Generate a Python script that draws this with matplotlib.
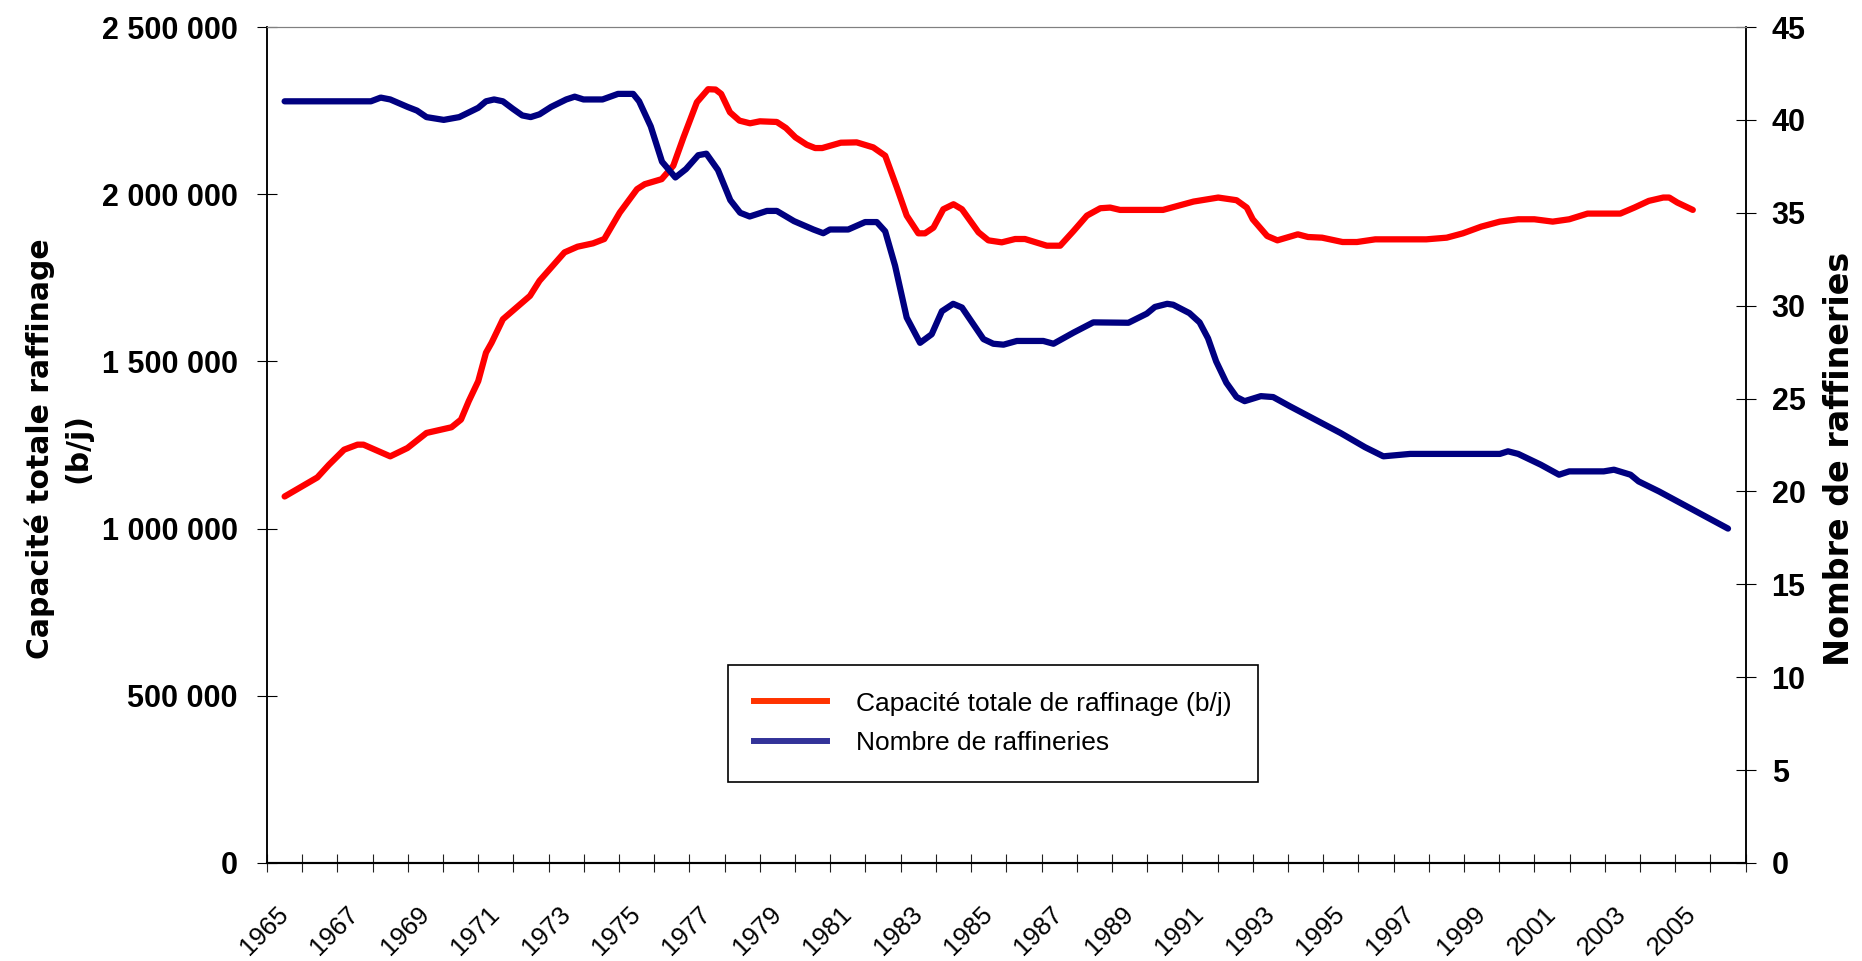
import numpy as np
import matplotlib.pyplot as plt
from matplotlib.lines import Line2D
from matplotlib.ticker import FuncFormatter

plt.rcParams['font.family'] = ['Liberation Sans', 'DejaVu Sans']

# Capacité totale de raffinage (b/j)
cap_years = [1965.0, 1965.93, 1966.26, 1966.69, 1967.07, 1967.24, 1968.0, 1968.49, 1969.03, 1969.74,
             1970.01, 1970.23, 1970.5, 1970.72, 1970.88, 1971.2, 1971.97, 1972.24, 1972.95, 1973.32,
             1973.76, 1974.08, 1974.52, 1975.01, 1975.23, 1975.71, 1976.04, 1976.33, 1976.71, 1977.03,
             1977.24, 1977.4, 1977.65, 1977.92, 1978.22, 1978.5, 1978.98, 1979.24, 1979.51, 1979.83,
             1980.07, 1980.27, 1980.8, 1981.25, 1981.72, 1982.06, 1982.39, 1982.67, 1983.0, 1983.19,
             1983.43, 1983.71, 1984.0, 1984.24, 1984.71, 1984.99, 1985.37, 1985.75, 1986.03, 1986.65,
             1987.03, 1987.41, 1987.79, 1988.17, 1988.45, 1988.73, 1989.95, 1990.82, 1991.52, 1992.04,
             1992.33, 1992.5, 1992.91, 1993.2, 1993.78, 1994.07, 1994.47, 1995.05, 1995.46, 1995.98,
             1997.43, 1998.01, 1998.47, 1998.99, 1999.52, 2000.04, 2000.5, 2001.02, 2001.49, 2002.01,
             2002.94, 2003.34, 2003.75, 2004.16, 2004.33, 2004.56, 2005.0]
cap_values = [1096000, 1153000, 1191000, 1236000, 1251000, 1251000, 1216000, 1241000, 1286000, 1303000,
              1326000, 1381000, 1441000, 1526000, 1556000, 1626000, 1696000, 1741000, 1826000, 1843000,
              1853000, 1866000, 1945000, 2015000, 2030000, 2045000, 2085000, 2170000, 2275000, 2314000,
              2313000, 2300000, 2245000, 2220000, 2212000, 2218000, 2216000, 2198000, 2170000, 2148000,
              2138000, 2138000, 2154000, 2155000, 2140000, 2115000, 2020000, 1936000, 1883000, 1883000,
              1900000, 1955000, 1970000, 1955000, 1886000, 1862000, 1856000, 1866000, 1866000, 1846000,
              1846000, 1890000, 1936000, 1958000, 1960000, 1953000, 1953000, 1978000, 1990000, 1982000,
              1960000, 1925000, 1875000, 1862000, 1880000, 1872000, 1870000, 1857000, 1857000, 1865000,
              1865000, 1870000, 1883000, 1903000, 1918000, 1925000, 1925000, 1918000, 1925000, 1942000,
              1942000, 1960000, 1980000, 1990000, 1990000, 1975000, 1953000]

# Nombre de raffineries
raf_years = [1965.0, 1967.45, 1967.73, 1968.0, 1968.49, 1968.76, 1969.03, 1969.52, 1969.96, 1970.23,
             1970.5, 1970.72, 1970.95, 1971.2, 1971.48, 1971.75, 1971.99, 1972.24, 1972.57, 1973.0,
             1973.24, 1973.49, 1974.03, 1974.47, 1974.9, 1975.07, 1975.4, 1975.72, 1976.1, 1976.4,
             1976.75, 1976.98, 1977.31, 1977.66, 1977.94, 1978.21, 1978.7, 1978.98, 1979.47, 1980.02,
             1980.3, 1980.49, 1981.01, 1981.49, 1981.82, 1982.06, 1982.34, 1982.67, 1983.05, 1983.38,
             1983.67, 1983.99, 1984.24, 1984.85, 1985.13, 1985.42, 1985.8, 1986.55, 1986.84, 1987.41,
             1987.97, 1988.97, 1989.49, 1989.72, 1990.07, 1990.24, 1990.7, 1990.99, 1991.23, 1991.46,
             1991.75, 1992.04, 1992.27, 1992.73, 1993.08, 1993.55, 1994.99, 1995.69, 1996.21, 1996.97,
             1999.52, 1999.75, 2000.04, 2000.68, 2001.2, 2001.49, 2002.47, 2002.76, 2003.23, 2003.46,
             2004.04, 2006.0]
raf_values = [41.0, 41.0, 41.2, 41.1, 40.7, 40.5, 40.15, 40.0, 40.15, 40.4,
              40.65, 41.0, 41.1, 41.0, 40.6, 40.24, 40.15, 40.3, 40.7, 41.1,
              41.25, 41.1, 41.1, 41.4, 41.4, 41.0, 39.65, 37.75, 36.9, 37.35,
              38.1, 38.18, 37.3, 35.68, 35.0, 34.8, 35.1, 35.1, 34.55, 34.1,
              33.9, 34.1, 34.1, 34.5, 34.5, 34.0, 32.15, 29.36, 28.0, 28.46,
              29.7, 30.1, 29.9, 28.2, 27.95, 27.9, 28.1, 28.1, 27.95, 28.55,
              29.1, 29.08, 29.57, 29.93, 30.1, 30.05, 29.6, 29.1, 28.24, 27.0,
              25.85, 25.08, 24.86, 25.13, 25.08, 24.59, 23.15, 22.38, 21.89, 22.02,
              22.02, 22.16, 22.02, 21.44, 20.9, 21.08, 21.08, 21.17, 20.9, 20.54,
              20.0, 18.0]

label_years = list(range(1965, 2006, 2))

fig = plt.figure(figsize=(18.62, 9.61), dpi=100)
ax = fig.add_axes([0.1434, 0.102, 0.7941, 0.8699])
ax2 = ax.twinx()

ax.plot(cap_years, cap_values, color='#FF0000', lw=4.5, solid_joinstyle='round', solid_capstyle='round')
ax2.plot(raf_years, raf_values, color='#000080', lw=4.5, solid_joinstyle='round', solid_capstyle='round')

ax.set_xlim(1964.5, 2006.5)
ax.set_ylim(0, 2500000)
ax2.set_ylim(0, 45)

ax.set_xticks(label_years)
ax.set_xticklabels([str(y) for y in label_years], rotation=45, ha='right', va='center',
                   rotation_mode='anchor', fontsize=18.5)
ax.set_xticks(np.arange(1964.5, 2007, 1), minor=True)
ax.tick_params(axis='x', which='major', length=0, pad=34)
ax.tick_params(axis='x', which='minor', direction='inout', length=13, width=0.8, color='#222222')

ax.set_yticks(np.arange(0, 2500001, 500000))
ax.yaxis.set_major_formatter(FuncFormatter(lambda v, p: '{:,}'.format(int(v)).replace(',', ' ')))
ax.tick_params(axis='y', direction='inout', length=14.4, width=0.8, pad=14, labelsize=22)
for t in ax.get_yticklabels():
    t.set_fontweight('bold')

ax2.set_yticks(np.arange(0, 46, 5))
ax2.tick_params(axis='y', direction='inout', length=14.4, width=0.8, pad=11.5, labelsize=22)
for t in ax2.get_yticklabels():
    t.set_fontweight('bold')

for a in (ax, ax2):
    a.spines['left'].set_linewidth(1.1)
    a.spines['right'].set_linewidth(1.1)
    a.spines['bottom'].set_linewidth(1.5)
    a.spines['top'].set_color('#808080')
    a.spines['top'].set_linewidth(0.8)

ax.set_ylabel('Capacité totale raffinage\n(b/j)', fontsize=21.5, fontweight='bold',
              family='DejaVu Sans', linespacing=1.35)
ax.yaxis.set_label_coords(-0.1184, 0.496)
ax2.set_ylabel('Nombre de raffineries', fontsize=24, fontweight='bold', family='DejaVu Sans')
ax2.yaxis.set_label_coords(1.0524, 0.483)

handles = [Line2D([], [], color='#FF3300', lw=4.3),
           Line2D([], [], color='#333399', lw=4.3)]
leg = ax2.legend(handles, ['Capacité totale de raffinage (b/j)', 'Nombre de raffineries'],
                 loc='center', bbox_to_anchor=(0.491, 0.1669), fontsize=19, fancybox=False,
                 framealpha=1, edgecolor='black', borderpad=1.0, handlelength=2.77,
                 handletextpad=1.1, labelspacing=0.6)
leg.get_frame().set_linewidth(1.2)

fig.savefig('out.png', dpi=100)
